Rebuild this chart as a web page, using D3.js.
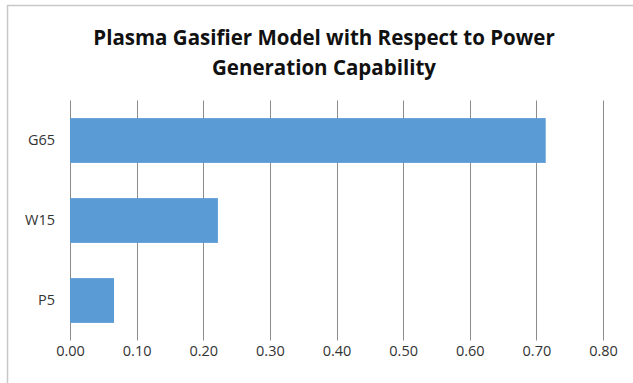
<!DOCTYPE html>
<html>
<head>
<meta charset="utf-8">
<script src="https://cdn.jsdelivr.net/npm/d3@7"></script>
<style>
  html, body { margin: 0; padding: 0; background: #fff; }
  svg { display: block; }
</style>
</head>
<body>
<div id="chart"></div>
<script>
// Gasifier models and their power generation capability
const categories = ["G65", "W15", "P5"];
const values = [0.714, 0.222, 0.066];
const tickValues = [0, 0.1, 0.2, 0.3, 0.4, 0.5, 0.6, 0.7, 0.8];
const titleLines = ["Plasma Gasifier Model with Respect to Power", "Generation Capability"];

const W = 633, H = 383;
const margin = { top: 100.5, right: 30, bottom: 42.5, left: 70 };

const svg = d3.select("#chart").append("svg")
  .attr("width", W).attr("height", H);

// chart frame
svg.append("rect")
  .attr("x", 7.5).attr("y", 5.5)
  .attr("width", W + 20).attr("height", H + 20)
  .attr("fill", "#fff").attr("stroke", "#c8c8c8").attr("stroke-width", 1.5);

const x = d3.scaleLinear().domain([0, 0.8]).range([margin.left, 603]);
const y = d3.scaleBand().domain(categories)
  .range([margin.top, H - margin.bottom]).paddingInner(0.44).paddingOuter(0.22);

// vertical gridlines
svg.append("g")
  .selectAll("line").data(tickValues).join("line")
  .attr("x1", d => Math.round(x(d)) + 0.5).attr("x2", d => Math.round(x(d)) + 0.5)
  .attr("y1", margin.top).attr("y2", H - margin.bottom)
  .attr("stroke", "#8c8c8c").attr("stroke-width", 1);

// bars
svg.append("g")
  .selectAll("rect").data(categories).join("rect")
  .attr("x", x(0))
  .attr("y", d => y(d))
  .attr("width", (d, i) => x(values[i]) - x(0))
  .attr("height", y.bandwidth())
  .attr("fill", "#5b9bd5");

// x axis labels
const xAxis = d3.axisBottom(x).tickValues(tickValues).tickFormat(d3.format(".2f")).tickSize(0).tickPadding(5);
const gx = svg.append("g").attr("transform", `translate(0,${H - margin.bottom})`).call(xAxis);
gx.select(".domain").remove();
gx.selectAll("text")
  .attr("font-family", "'Open Sans', sans-serif").attr("font-size", 14.5)
  .attr("fill", "#333");

// category labels
const yAxis = d3.axisLeft(y).tickSize(0).tickPadding(15);
const gy = svg.append("g").attr("transform", `translate(${margin.left},0)`).call(yAxis);
gy.select(".domain").remove();
gy.selectAll("text")
  .attr("font-family", "'Open Sans', sans-serif").attr("font-size", 14.5)
  .attr("fill", "#333");

// title
svg.append("g").selectAll("text").data(titleLines).join("text")
  .attr("x", 324).attr("y", (d, i) => 45 + i * 30)
  .attr("text-anchor", "middle")
  .attr("font-family", "'Open Sans', sans-serif").attr("font-weight", "bold")
  .attr("font-size", 20.5).attr("fill", "#111")
  .text(d => d);
</script>
</body>
</html>
